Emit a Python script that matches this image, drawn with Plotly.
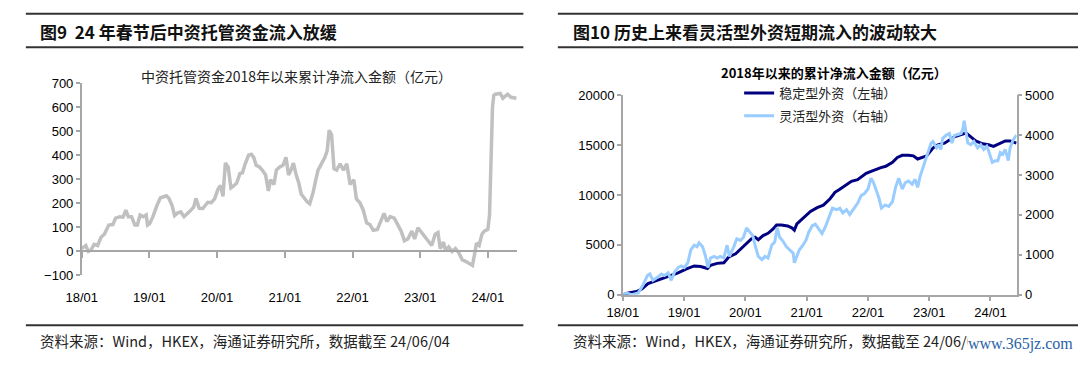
import plotly.graph_objects as go

# ---------------- data ----------------
left_dates = [
    "2018-01-01","2018-01-23","2018-02-06","2018-02-19","2018-03-09","2018-03-28","2018-04-15","2018-05-03",
    "2018-05-27","2018-06-18","2018-07-03","2018-07-25","2018-08-12","2018-08-27","2018-09-09","2018-09-27",
    "2018-10-15","2018-10-28","2018-11-12","2018-11-30","2018-12-15","2018-12-22","2019-01-02","2019-01-20",
    "2019-02-11","2019-03-01","2019-03-19","2019-04-03","2019-04-16","2019-05-04","2019-05-17","2019-06-01",
    "2019-06-19","2019-07-07","2019-08-04","2019-08-28","2019-09-09","2019-09-27","2019-10-16","2019-11-12",
    "2019-12-01","2019-12-19","2020-01-06","2020-01-20","2020-02-02","2020-02-15","2020-03-01","2020-03-16",
    "2020-03-29","2020-04-16","2020-05-04","2020-05-17","2020-06-01","2020-06-19","2020-07-04","2020-07-17",
    "2020-07-30","2020-08-17","2020-09-01","2020-09-19","2020-10-04","2020-10-16","2020-11-03","2020-11-16",
    "2020-12-04","2020-12-22","2021-01-07","2021-01-21","2021-02-03","2021-02-16","2021-03-03","2021-03-17",
    "2021-03-30","2021-04-17","2021-04-30","2021-05-15","2021-06-02","2021-06-17","2021-06-29","2021-07-17",
    "2021-08-05","2021-08-17","2021-08-28","2021-09-10","2021-09-23","2021-10-07","2021-10-26","2021-11-13",
    "2021-12-01","2021-12-19","2022-01-08","2022-01-22","2022-02-10","2022-02-28","2022-03-18","2022-04-05",
    "2022-04-23","2022-05-15","2022-06-02","2022-06-20","2022-07-05","2022-07-23","2022-08-14","2022-09-02",
    "2022-09-20","2022-10-08","2022-10-26","2022-11-17","2022-12-02","2022-12-20","2023-01-09","2023-01-27",
    "2023-02-14","2023-03-04","2023-03-23","2023-04-07","2023-04-19","2023-05-07","2023-05-17","2023-06-04",
    "2023-06-22","2023-07-10","2023-07-28","2023-08-16","2023-09-03","2023-09-21","2023-10-10","2023-10-19",
    "2023-11-01","2023-11-15","2023-11-30","2023-12-13","2024-01-01","2024-01-10","2024-01-18","2024-01-26",
    "2024-02-02","2024-02-10","2024-03-08","2024-03-22","2024-04-16","2024-05-05","2024-06-04",
]
left_values = [
    12, 25, 0, 5, 30, 25, 59, 72,
    110, 112, 139, 145, 143, 172, 145, 145,
    110, 110, 152, 145, 152, 110, 115, 145,
    192, 223, 228, 232, 222, 190, 150, 160,
    165, 145, 165, 185, 221, 180, 179, 205,
    203, 219, 259, 275, 230, 369, 352, 265,
    272, 285, 325, 328, 365, 401, 405, 392,
    359, 352, 339, 319, 252, 299, 279, 339,
    352, 359, 392, 319, 339, 368, 319, 285,
    239, 219, 208, 199, 245, 299, 339, 365,
    392, 419, 505, 485, 345, 339, 365, 339,
    365, 279, 299, 219, 203, 172, 119, 112,
    88, 92, 125, 159, 125, 145, 139, 112,
    85, 45, 52, 85, 52, 99, 79, 59,
    39, 25, 72, 79, 12, 39, 5, 19,
    0, 12, -5, -35, -41, -48, -58, -21,
    35, 25, 72, 85, 92, 150, 400, 600,
    650, 655, 658, 638, 655, 642, 638,
]

stable_dates = [
    "2018-01-02","2018-02-03","2018-03-24","2018-04-24","2018-05-31","2018-07-10","2018-08-28","2018-10-16",
    "2018-11-26","2019-01-12","2019-03-02","2019-04-10","2019-05-20","2019-06-07","2019-07-17","2019-08-26",
    "2019-09-24","2019-11-04","2019-12-10","2020-01-08","2020-02-07","2020-02-28","2020-03-18","2020-04-16",
    "2020-05-15","2020-06-13","2020-07-05","2020-08-03","2020-09-09","2020-10-04","2020-10-19","2020-11-03",
    "2020-12-13","2021-01-23","2021-03-04","2021-04-10","2021-05-20","2021-06-18","2021-07-17","2021-08-26",
    "2021-09-24","2021-10-31","2021-11-29","2021-12-21","2022-01-27","2022-02-28","2022-03-19","2022-04-17",
    "2022-05-27","2022-06-25","2022-07-24","2022-08-30","2022-09-28","2022-10-24","2022-11-18","2022-12-17",
    "2023-01-23","2023-02-21","2023-04-02","2023-05-01","2023-05-31","2023-07-10","2023-08-08","2023-09-06",
    "2023-10-05","2023-11-15","2023-12-21","2024-01-19","2024-02-17","2024-03-29","2024-04-27","2024-06-04",
]
stable_values = [
    0, 160, 320, 580, 1120, 1350, 1600, 1920,
    2180, 2560, 2880, 2820, 2630, 2950, 3140, 3200,
    3780, 4100, 4650, 5130, 5610, 5770, 5510, 5930,
    6150, 6570, 6990, 6990, 6890, 6700, 6470, 7100,
    7700, 8340, 8730, 8980, 9620, 10260, 10570, 11050,
    11370, 11530, 11850, 12170, 12420, 12640, 12740, 12870,
    13280, 13760, 13980, 13980, 13920, 13600, 13760, 13920,
    14700, 15030, 15190, 15510, 15830, 16050, 16210, 15830,
    15420, 15130, 15030, 14870, 15130, 15420, 15420, 15190,
]

flex_dates = [
    "2018-01-02","2018-01-23","2018-02-23","2018-04-02","2018-05-01","2018-05-27","2018-06-11","2018-06-29",
    "2018-07-28","2018-08-19","2018-09-06","2018-09-28","2018-10-16","2018-11-04","2018-11-26","2018-12-14",
    "2019-01-02","2019-01-23","2019-02-10","2019-03-02","2019-03-19","2019-03-31","2019-04-21","2019-05-09",
    "2019-05-23","2019-06-07","2019-06-29","2019-07-17","2019-08-04","2019-08-26","2019-09-14","2019-09-28",
    "2019-10-24","2019-11-11","2019-12-03","2019-12-21","2020-01-08","2020-01-30","2020-02-14","2020-02-28",
    "2020-03-18","2020-04-09","2020-04-27","2020-05-15","2020-06-06","2020-06-24","2020-07-09","2020-07-23",
    "2020-08-11","2020-09-02","2020-09-20","2020-10-12","2020-10-19","2020-10-30","2020-11-17","2020-12-09",
    "2020-12-27","2021-01-12","2021-02-03","2021-02-21","2021-03-11","2021-04-02","2021-04-21","2021-05-20",
    "2021-06-03","2021-06-29","2021-07-17","2021-08-04","2021-08-26","2021-09-14","2021-10-13","2021-10-31",
    "2021-11-22","2021-12-10","2022-01-01","2022-01-19","2022-02-03","2022-02-17","2022-03-08","2022-03-22",
    "2022-04-13","2022-05-05","2022-05-27","2022-06-14","2022-07-03","2022-07-24","2022-08-12","2022-08-30",
    "2022-09-21","2022-10-09","2022-10-24","2022-11-07","2022-11-26","2022-12-17","2023-01-12","2023-01-23",
    "2023-02-14","2023-02-28","2023-03-11","2023-03-22","2023-04-13","2023-05-01","2023-05-16","2023-05-31",
    "2023-06-22","2023-07-10","2023-07-21","2023-07-28","2023-08-08","2023-08-19","2023-09-06","2023-09-24",
    "2023-10-16","2023-11-04","2023-11-22","2023-12-10","2023-12-21","2024-01-12","2024-01-30","2024-02-14",
    "2024-02-28","2024-03-14","2024-03-29","2024-04-16","2024-04-27","2024-05-15","2024-06-04",
]
flex_values = [
    0, 40, 0, 40, 240, 480, 520, 360,
    440, 520, 480, 545, 360, 560, 680, 720,
    680, 800, 1120, 1240, 1200, 1300, 1200, 960,
    680, 920, 960, 920, 960, 920, 1240, 960,
    1200, 1400, 1360, 1440, 1670, 1560, 1480, 1240,
    960, 880, 960, 920, 1240, 1320, 1680, 1440,
    1350, 1200, 1120, 1040, 800, 920, 1120, 1240,
    1360, 1560, 1730, 1770, 1670, 1530, 1690, 2010,
    2170, 2130, 2170, 2050, 2130, 2010, 2170, 2290,
    2490, 2530, 2650, 2920, 2810, 2650, 2410, 2170,
    2250, 2210, 2330, 2690, 2920, 2650, 2810, 2850,
    2770, 2890, 2690, 2960, 3200, 3520, 3800, 3840,
    3680, 3760, 3640, 3920, 4000, 4040, 3800, 3990,
    4020, 4040, 4160, 4360, 4080, 3800, 3760, 3840,
    3680, 3760, 3640, 3720, 3600, 3320, 3360, 3360,
    3560, 3520, 3640, 3360, 3680, 3880, 4000,
]

left_y_ticks = [-100, 0, 100, 200, 300, 400, 500, 600, 700]
right_left_ticks = [0, 5000, 10000, 15000, 20000]
right_right_ticks = [0, 1000, 2000, 3000, 4000, 5000]

# ---------------- layout geometry (pixels -> paper) ----------------
W, H = 1080, 365
def px(x): return x / W
def py(y): return 1 - y / H

AX = "#a6a6a6"
FONT = "Liberation Sans, Arial, Noto Sans CJK SC, sans-serif"
CJK = "Noto Sans CJK SC, sans-serif"

xdomL = [px(66.7), px(508.3)]
ydomL = [py(280), py(79.7)]
yrangeL = [-100, 700]
zero_pos = ydomL[0] + (0 - yrangeL[0]) / (yrangeL[1] - yrangeL[0]) * (ydomL[1] - ydomL[0])

xdomR = [px(616), px(1015.7)]
ydomR = [py(300), py(92)]

xrange_dates = ["2018-01-01", "2024-06-05"]

fig = go.Figure()

fig.add_trace(go.Scatter(
    x=left_dates, y=left_values, xaxis="x", yaxis="y", mode="lines",
    line=dict(color="#c0c0c0", width=3.5), showlegend=False, hoverinfo="skip"))

fig.add_trace(go.Scatter(
    x=stable_dates, y=stable_values, xaxis="x2", yaxis="y2", mode="lines",
    name="稳定型外资（左轴）", legendgroup="a",
    line=dict(color="#000080", width=3)))
fig.add_trace(go.Scatter(
    x=flex_dates, y=flex_values, xaxis="x2", yaxis="y3", mode="lines",
    name="灵活型外资（右轴）", legendgroup="b",
    line=dict(color="#99ccff", width=3)))

tickfont = dict(family=FONT, size=13, color="#000")

fig.update_layout(
    width=W, height=H, margin=dict(l=0, r=0, t=0, b=0),
    paper_bgcolor="white", plot_bgcolor="white",
    font=dict(family=FONT, size=13, color="#000"),
    xaxis=dict(domain=xdomL, type="date", range=xrange_dates, anchor="free", position=zero_pos,
               tick0="2018-01-01", dtick="M12", tickformat="%y/%m",
               showline=True, linecolor=AX, linewidth=1.5, ticks="outside", ticklen=6,
               tickcolor=AX, tickwidth=1.5, showgrid=False, zeroline=False,
               tickfont=tickfont, ticklabelstandoff=28),
    yaxis=dict(domain=ydomL, range=yrangeL, tickvals=left_y_ticks, anchor="x", tickformat="d",
               showline=True, linecolor=AX, linewidth=1.5, ticks="outside", ticklen=4,
               tickcolor=AX, tickwidth=1.5, showgrid=False, zeroline=False, tickfont=tickfont),
    xaxis2=dict(domain=xdomR, type="date", range=xrange_dates, anchor="y2",
                tick0="2018-01-01", dtick="M12", tickformat="%y/%m",
                showline=True, linecolor=AX, linewidth=1.5, ticks="outside", ticklen=5,
                tickcolor=AX, tickwidth=1.5, showgrid=False, zeroline=False, tickfont=tickfont),
    yaxis2=dict(domain=ydomR, range=[0, 20000], tickvals=right_left_ticks, anchor="x2", tickformat="d",
                showline=True, linecolor=AX, linewidth=1.5, ticks="outside", ticklen=4,
                tickcolor=AX, tickwidth=1.5, showgrid=False, zeroline=False, tickfont=tickfont),
    yaxis3=dict(range=[0, 5000], tickvals=right_right_ticks, overlaying="y2", side="right", anchor="x2",
                tickformat="d",
                showline=True, linecolor=AX, linewidth=1.5, ticks="outside", ticklen=4,
                tickcolor=AX, tickwidth=1.5, showgrid=False, zeroline=False, tickfont=tickfont),
    legend=dict(x=px(734), y=py(74), xanchor="left", yanchor="top",
                font=dict(family=CJK, size=13, color="#222"), bgcolor="rgba(0,0,0,0)",
                tracegroupgap=3, itemwidth=30),
)

# rules
for (x0, x1) in [(10, 515), (550, 1078)]:
    for y in [7, 42, 332]:
        fig.add_shape(type="line", xref="paper", yref="paper", x0=px(x0), x1=px(x1), y0=py(y), y1=py(y),
                      line=dict(color="#333333", width=2))

# titles
fig.add_annotation(text="<b>图9  24 年春节后中资托管资金流入放缓</b>", xref="paper", yref="paper",
                   x=px(22), y=py(26), xanchor="left", yanchor="middle", showarrow=False,
                   font=dict(family=CJK, size=17, color="#111"))
fig.add_annotation(text="<b>图10 历史上来看灵活型外资短期流入的波动较大</b>", xref="paper", yref="paper",
                   x=px(563), y=py(26), xanchor="left", yanchor="middle", showarrow=False,
                   font=dict(family=CJK, size=17, color="#111"))
fig.add_annotation(text="中资托管资金2018年以来累计净流入金额（亿元）", xref="paper", yref="paper",
                   x=px(285), y=py(72), xanchor="center", yanchor="middle", showarrow=False,
                   font=dict(family=CJK, size=14, color="#222"))
fig.add_annotation(text="<b>2018年以来的累计净流入金额（亿元）</b>", xref="paper", yref="paper",
                   x=px(830), y=py(68), xanchor="center", yanchor="middle", showarrow=False,
                   font=dict(family=CJK, size=13, color="#000"))
fig.add_annotation(text="资料来源：Wind，HKEX，海通证券研究所，数据截至 24/06/04", xref="paper", yref="paper",
                   x=px(22), y=py(348), xanchor="left", yanchor="middle", showarrow=False,
                   font=dict(family=CJK, size=14.5, color="#222"))
fig.add_annotation(text="资料来源：Wind，HKEX，海通证券研究所，数据截至 24/06/04", xref="paper", yref="paper",
                   x=px(563), y=py(348), xanchor="left", yanchor="middle", showarrow=False,
                   font=dict(family=CJK, size=14.5, color="#222"))
fig.add_annotation(text="www.365jz.com", xref="paper", yref="paper",
                   x=px(1074), y=py(351), xanchor="right", yanchor="middle", showarrow=False,
                   bgcolor="white", borderpad=0,
                   font=dict(family="Liberation Serif, serif", size=16, color="#2a63a8"))

fig.write_html("out.html", config={"displayModeBar": False},
               post_script="document.body.style.margin='0';")
